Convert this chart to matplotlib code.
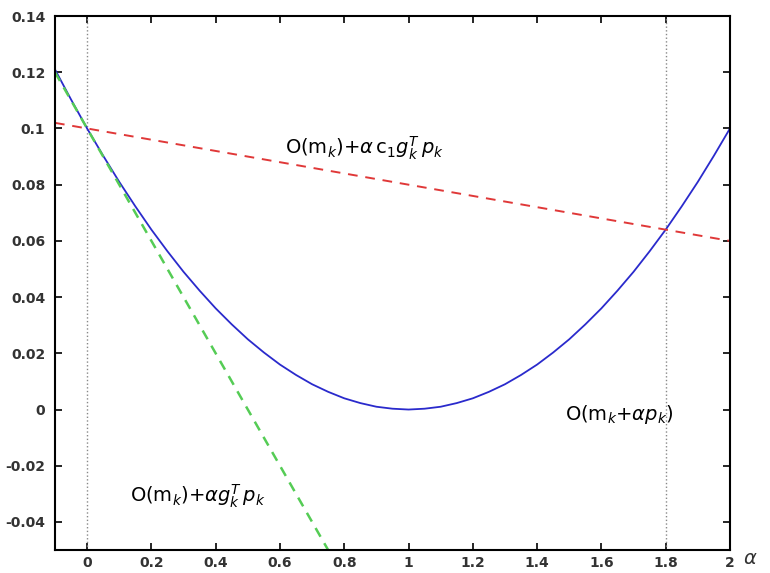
import matplotlib.pyplot as plt

# Objective along the search direction, sampled every 0.05
alpha = [-0.1, -0.05, 0.0, 0.05, 0.1, 0.15, 0.2, 0.25, 0.3, 0.35, 0.4,
         0.45, 0.5, 0.55, 0.6, 0.65, 0.7, 0.75, 0.8, 0.85, 0.9, 0.95, 1.0,
         1.05, 1.1, 1.15, 1.2, 1.25, 1.3, 1.35, 1.4, 1.45, 1.5, 1.55, 1.6,
         1.65, 1.7, 1.75, 1.8, 1.85, 1.9, 1.95, 2.0]
obj = [0.121, 0.1103, 0.1, 0.0903, 0.081, 0.0723, 0.064, 0.0563, 0.049,
       0.0423, 0.036, 0.0303, 0.025, 0.0203, 0.016, 0.0123, 0.009, 0.0063,
       0.004, 0.0023, 0.001, 0.0003, 0.0,
       0.0003, 0.001, 0.0023, 0.004, 0.0063, 0.009, 0.0123, 0.016, 0.0203,
       0.025, 0.0303, 0.036, 0.0423, 0.049, 0.0563, 0.064, 0.0723, 0.081,
       0.0903, 0.1]

# Sufficient decrease line (c1 slope) and tangent line
armijo_x = [-0.1, 2.0]
armijo_y = [0.102, 0.06]
tangent_x = [-0.1, 0.75]
tangent_y = [0.12, -0.05]

# Marked step sizes
marks = [0.0, 1.8]

xticks = [0, 0.2, 0.4, 0.6, 0.8, 1, 1.2, 1.4, 1.6, 1.8, 2]
yticks = [-0.04, -0.02, 0, 0.02, 0.04, 0.06, 0.08, 0.1, 0.12, 0.14]

fig = plt.figure(figsize=(7.7, 5.73), dpi=100)
ax = fig.add_axes([0.0714, 0.04, 0.8766, 0.932])

for m in marks:
    ax.axvline(m, color='#888888', linestyle=':', linewidth=1.0)

ax.plot(alpha, obj, color='#2a2acc', linewidth=1.3)
ax.plot(armijo_x, armijo_y, color='#e03838', linestyle='--', linewidth=1.4,
        dashes=(5, 4))
ax.plot(tangent_x, tangent_y, color='#55cc55', linestyle='--', linewidth=1.8,
        dashes=(4, 3))

ax.text(0.615, 0.0931, r'$\mathsf{O}(\mathsf{m}_k){+}\alpha\,\mathsf{c}_1 g_k^T\, p_k$',
        fontsize=14, va='center', ha='left')
ax.text(0.133, -0.0308, r'$\mathsf{O}(\mathsf{m}_k){+}\alpha g_k^T\, p_k$',
        fontsize=14, va='center', ha='left')
ax.text(1.487, -0.0017, r'$\mathsf{O}(\mathsf{m}_k{+}\alpha p_k)$',
        fontsize=14, va='center', ha='left')

ax.set_xlim(-0.1, 2.0)
ax.set_ylim(-0.05, 0.14)
ax.set_xticks(xticks)
ax.set_xticklabels([f'{t:g}' for t in xticks])
ax.set_yticks(yticks)
ax.set_yticklabels([f'{t:g}' for t in yticks])
ax.tick_params(direction='in', top=True, right=True, length=5, width=1.2,
               labelsize=10)
ax.tick_params(axis='x', pad=4)
ax.tick_params(axis='y', pad=7)
for lbl in ax.get_xticklabels() + ax.get_yticklabels():
    lbl.set_fontweight('bold')
    lbl.set_color('#333333')
for s in ax.spines.values():
    s.set_linewidth(1.5)

ax.text(1.02, -0.015, r'$\alpha$', transform=ax.transAxes, fontsize=14,
        ha='left', va='center', color='#333333')

fig.savefig('out.png', dpi=100)
